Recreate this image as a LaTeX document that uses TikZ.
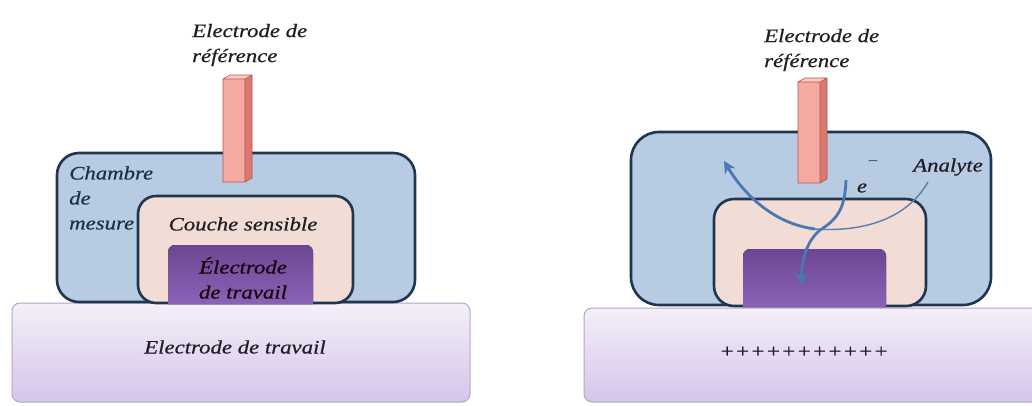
\documentclass[tikz,border=0pt]{standalone}
\usepackage{fontspec}
\setmainfont{Liberation Serif}[FakeStretch=1.2, ItalicFeatures={FakeBold=0.6}]
\usetikzlibrary{arrows.meta}
\definecolor{navy}{HTML}{1F3550}
\definecolor{chamberfill}{HTML}{B7CBE3}
\definecolor{couchefill}{HTML}{F2DCD6}
\definecolor{purpletop}{HTML}{6C4692}
\definecolor{purplebot}{HTML}{8A62B7}
\definecolor{basetop}{HTML}{F4EFF9}
\definecolor{basebot}{HTML}{D5C5E9}
\definecolor{baseedge}{HTML}{B5A6C8}
\definecolor{barfront}{HTML}{F4A9A1}
\definecolor{barside}{HTML}{D97A72}
\definecolor{bartop}{HTML}{F9CCC4}
\definecolor{baredge}{HTML}{C0504D}
\definecolor{arrowblue}{HTML}{4A78B2}
\definecolor{arcblue}{HTML}{5A7EA8}
\definecolor{txt}{HTML}{1E1E24}
\tikzset{
  chamber/.style={draw=navy, line width=2.6pt, fill=chamberfill},
  couche/.style={draw=navy, line width=2.6pt, fill=couchefill},
  slab/.style={draw=baseedge, line width=1pt, top color=basetop, bottom color=basebot, rounded corners=8pt},
  elec/.style={top color=purpletop, bottom color=purplebot},
  lbl/.style={font=\fontsize{19}{25}\selectfont\itshape, text=txt, inner sep=0pt},
  bararrow/.style={draw=arrowblue, line width=2.8pt, -{Stealth[length=12pt,width=12pt]}},
}
\newcommand{\refbar}[4]{% x left, y top, front width, height
  \fill[barfront] (#1,#2+4) rectangle (#1+#3,#2+4+#4);
  \fill[barside] (#1+#3,#2+4) -- (#1+#3+7,#2) -- (#1+#3+7,#2+#4) -- (#1+#3,#2+4+#4) -- cycle;
  \fill[bartop] (#1,#2+4) -- (#1+7,#2) -- (#1+#3+7,#2) -- (#1+#3,#2+4) -- cycle;
  \draw[baredge, line width=0.6pt] (#1,#2+4) -- (#1+#3,#2+4) -- (#1+#3,#2+4+#4) -- (#1,#2+4+#4) -- cycle
     (#1+#3,#2+4) -- (#1+#3+7,#2) -- (#1+#3+7,#2+#4) -- (#1+#3,#2+4+#4)
     (#1,#2+4) -- (#1+7,#2) -- (#1+#3+7,#2);
}
\begin{document}
\begin{tikzpicture}[x=1pt,y=-1pt]
\useasboundingbox (0,0) rectangle (1032,405);
\fill[white] (0,0) rectangle (1032,405);

% ================= LEFT PANEL =================
\path[slab] (12,303) rectangle (470,402);
\path[chamber, rounded corners=22pt] (57,153) rectangle (415,302);
\node[lbl, anchor=west, align=left, text=navy!90!black] (chambreL) at (69,198) {Chambre\\de\\mesure};
\path[couche, rounded corners=18pt] (138,196) rectangle (353,303);
\fill[elec] (168,304) [rounded corners=7pt] -- (168,245) -- (313,245) [sharp corners] -- (313,304) -- cycle;
\refbar{223}{75}{22}{103}
\node[lbl, anchor=west, align=left] (refL) at (192,45) {Electrode de\\référence};
\node[lbl] (coucheL) at (243,224) {Couche sensible};
\node[lbl, align=center, text=black!85!purple] (elecL) at (243,278) {Électrode\\de travail};
\node[lbl] (baseL) at (235,347) {Electrode de travail};

% ================= RIGHT PANEL =================
\path[slab] (584,308) rectangle (1045,402);
\path[chamber, rounded corners=28pt] (631,132) rectangle (991,305);
\path[couche, rounded corners=20pt] (714,199) rectangle (926,306);
\fill[elec] (743,307) [rounded corners=7pt] -- (743,249) -- (886,249) [sharp corners] -- (886,307) -- cycle;
\refbar{798}{78}{22}{101}
\node[lbl, anchor=west, align=left] (refR) at (764,50) {Electrode de\\référence};
\node[lbl] (plus) at (804,352) {+++++++++++};
\node[lbl] (analyte) at (948,167) {Analyte};
\node[lbl] (electron) at (862,188) {e};
\node[lbl, font=\fontsize{14}{14}\selectfont] (minus) at (873,163) {–};

\coordinate (arcR) at (928,182);
\coordinate (arcB) at (815,229);
\coordinate (arcTip) at (724,161);
\coordinate (eS) at (846,180);
\coordinate (eM) at (820,230);
\coordinate (eTip) at (801,285);
\draw[arcblue, line width=1.4pt] (arcR) .. controls (905,222) and (858,232) .. (arcB);
\draw[bararrow] (arcB) .. controls (775,224) and (745,196) .. (arcTip);
\draw[bararrow] (eS) .. controls (845,205) and (840,218) .. (eM) .. controls (806,242) and (802,260) .. (eTip);
\end{tikzpicture}
\end{document}
